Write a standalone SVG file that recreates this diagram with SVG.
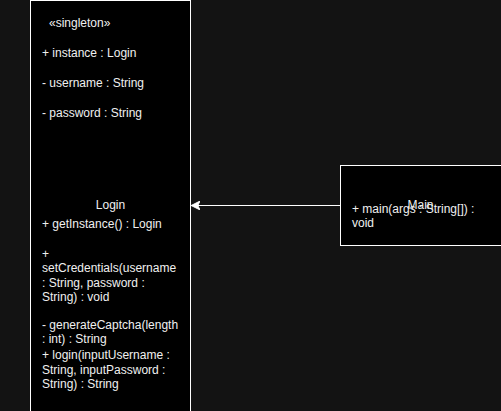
<svg xmlns="http://www.w3.org/2000/svg" width="501" height="411" viewBox="0 0 501 411">
  <style>
    .box { fill: #000000; stroke: #ffffff; stroke-width: 1; }
    .t { font-family: "Liberation Sans", Arial, Helvetica, sans-serif; font-size: 12px; fill: #f0f0f0; }
    .mid { text-anchor: middle; }
    .edge { fill: none; stroke: #ffffff; stroke-width: 1; }
  </style>
  <defs>
    <marker id="classic" viewBox="0 0 10 10" refX="9" refY="5" markerWidth="9" markerHeight="9" markerUnits="userSpaceOnUse" orient="auto">
      <path d="M0,0 L10,5 L0,10 L2.5,5 Z" fill="#ffffff" stroke="#ffffff" stroke-width="1"/>
    </marker>
  </defs>

  <rect x="0" y="0" width="501" height="411" fill="#131313"/>

  <!-- Login class (singleton) -->
  <g id="login">
    <rect class="box" x="30.5" y="0.5" width="160" height="430"/>
    <text class="t" x="49" y="27">«singleton»</text>
    <text class="t" x="42" y="57">+ instance : Login</text>
    <text class="t" x="42" y="87">- username : String</text>
    <text class="t" x="42" y="117">- password : String</text>
    <text class="t mid" x="110.5" y="209">Login</text>
    <text class="t" x="42" y="228">+ getInstance() : Login</text>
    <text class="t" x="42" y="257.5">+</text>
    <text class="t" x="42" y="272">setCredentials(username</text>
    <text class="t" x="42" y="286.5">: String, password :</text>
    <text class="t" x="42" y="301">String) : void</text>
    <text class="t" x="42" y="329">- generateCaptcha(length</text>
    <text class="t" x="42" y="343">: int) : String</text>
    <text class="t" x="42" y="359">+ login(inputUsername :</text>
    <text class="t" x="42" y="373.5">String, inputPassword :</text>
    <text class="t" x="42" y="388">String) : String</text>
  </g>

  <!-- Main class -->
  <g id="main">
    <rect class="box" x="340.5" y="165.5" width="170" height="80"/>
    <text class="t mid" x="420.5" y="209">Main</text>
    <text class="t" x="352" y="213">+ main(args : String[]) :</text>
    <text class="t" x="352" y="227">void</text>
  </g>

  <!-- Connectors -->
  <g id="connectors">
    <path class="edge" d="M340,205.5 L192,205.5" marker-end="url(#classic)"/>
  </g>
</svg>
